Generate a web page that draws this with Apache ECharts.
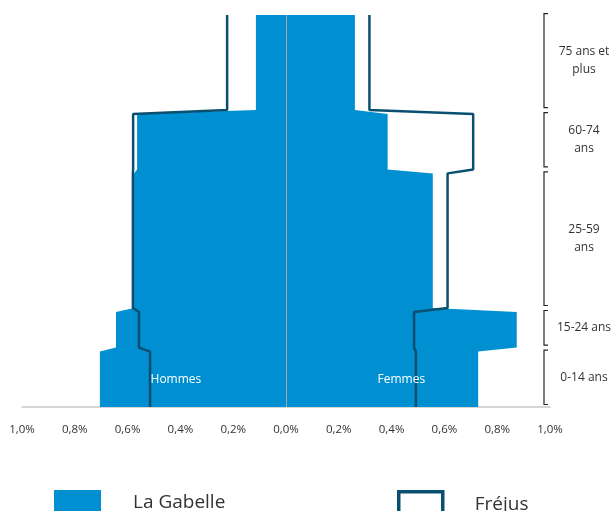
<!DOCTYPE html>
<html><head><meta charset="utf-8">
<script src="https://cdn.jsdelivr.net/npm/echarts@6/dist/echarts.min.js"></script>
<style>html,body{margin:0;padding:0;background:#fff}#c{width:616px;height:511px}</style>
</head><body><div id="c"></div>
<script>
// Age groups (y axis in years of age)
const ageGroups = ['0-14 ans', '15-24 ans', '25-59\nans', '60-74\nans', '75 ans et\nplus'];
const groupStart = [0, 15, 25, 60, 75];
const groupEnd = [14, 24, 59, 74, 99];
// Share of population per year of age (%)
const gabelleHommes = [0.705, 0.644, 0.576, 0.564, 0.114];
const gabelleFemmes = [0.728, 0.874, 0.556, 0.385, 0.261];
const frejusHommes = [0.515, 0.557, 0.580, 0.579, 0.223];
const frejusFemmes = [0.492, 0.485, 0.612, 0.709, 0.316];
const sideLabels = ['Hommes', 'Femmes'];
const seriesNames = ['La Gabelle', 'Fréjus'];

const BLUE = '#0090d1', DARK = '#0b4f70';

function stepPoints(values, sign) {
  const pts = [];
  for (let i = 0; i < values.length; i++) {
    pts.push([sign * values[i], groupStart[i]]);
    pts.push([sign * values[i], groupEnd[i]]);
  }
  return pts;
}
const gabellePoly = stepPoints(gabelleHommes, -1).concat(stepPoints(gabelleFemmes, 1).reverse());
const frejusH = stepPoints(frejusHommes, -1);
const frejusF = stepPoints(frejusFemmes, 1);

const chart = echarts.init(document.getElementById('c'), null, {renderer: 'canvas'});
const font = "'Open Sans', sans-serif";
chart.setOption({
  animation: false,
  textStyle: {fontFamily: font},
  grid: {left: 22, right: 66, top: 15, bottom: 104, containLabel: false},
  xAxis: {
    type: 'value', min: -1, max: 1, interval: 0.2,
    axisLine: {show: true, onZero: false, lineStyle: {color: '#c8c8c8', width: 1.5}},
    axisTick: {show: false},
    splitLine: {show: false},
    axisLabel: {
      margin: 17, fontSize: 11.5, color: '#333', fontFamily: font,
      formatter: v => Math.abs(v).toFixed(1).replace('.', ',') + '%'
    }
  },
  yAxis: {type: 'value', min: 0, max: 99, show: false, splitLine: {show: false}},
  legend: [
    {
      data: [{name: seriesNames[0], icon: 'rect'}],
      left: 54, top: 490, padding: 0,
      itemWidth: 47, itemHeight: 26,
      textStyle: {fontSize: 19, color: '#333', fontFamily: font, padding: [0, 0, 0, 27]},
      selectedMode: false
    },
    {
      data: [{name: seriesNames[1], icon: 'rect', itemStyle: {color: '#fff', borderColor: DARK, borderWidth: 3.5}}],
      left: 397, top: 490, padding: 0,
      itemWidth: 44, itemHeight: 26,
      textStyle: {fontSize: 19, color: '#333', fontFamily: font, padding: [0, 0, 0, 27]},
      selectedMode: false
    }
  ],
  series: [
    {
      type: 'custom', name: seriesNames[0], silent: true, z: 1,
      itemStyle: {color: BLUE},
      data: [[0, 0]],
      renderItem: (params, api) => ({
        type: 'polygon',
        shape: {points: gabellePoly.map(p => api.coord(p))},
        style: {fill: BLUE}
      })
    },
    {
      type: 'line', name: seriesNames[1], data: frejusH, symbol: 'none', z: 3, silent: true,
      lineStyle: {color: DARK, width: 2.5}, itemStyle: {color: DARK},
      markLine: {
        silent: true, symbol: 'none', label: {show: false},
        lineStyle: {color: '#a6a6a6', width: 1, type: 'solid'},
        data: [{xAxis: 0}]
      }
    },
    {
      type: 'line', name: seriesNames[1], data: frejusF, symbol: 'none', z: 3, silent: true,
      lineStyle: {color: DARK, width: 2.5}, itemStyle: {color: DARK}
    },
    {
      type: 'custom', name: 'groups', silent: true, z: 4, clip: false,
      data: groupStart.map(s => [1, s]),
      renderItem: (params, api) => {
        const i = params.dataIndex;
        const bx = api.coord([1, 0])[0] - 6;
        const y0 = api.coord([0, groupStart[i]])[1] - 2.5;
        const y1 = api.coord([0, groupEnd[i] + 1])[1] + 2.5;
        return {
          type: 'group',
          children: [
            {type: 'polyline', shape: {points: [[bx + 4, y0], [bx, y0], [bx, y1], [bx + 4, y1]]},
             style: {stroke: '#262626', lineWidth: 1.2, fill: null}},
            {type: 'text', x: bx + 40, y: (y0 + y1) / 2,
             style: {text: ageGroups[i], align: 'center', verticalAlign: 'middle', fontSize: 12,
                     lineHeight: 18, fill: '#333', fontFamily: font}}
          ]
        };
      }
    },
    {
      type: 'custom', name: 'sides', silent: true, z: 5,
      data: [[-0.417, 6.8], [0.437, 6.8]],
      renderItem: (params, api) => {
        const p = api.coord([api.value(0), api.value(1)]);
        return {type: 'text', x: p[0], y: p[1],
          style: {text: sideLabels[params.dataIndex], align: 'center', verticalAlign: 'middle',
                  fontSize: 12, fill: '#ffffff', fontFamily: font}};
      }
    }
  ]
});
</script></body></html>
